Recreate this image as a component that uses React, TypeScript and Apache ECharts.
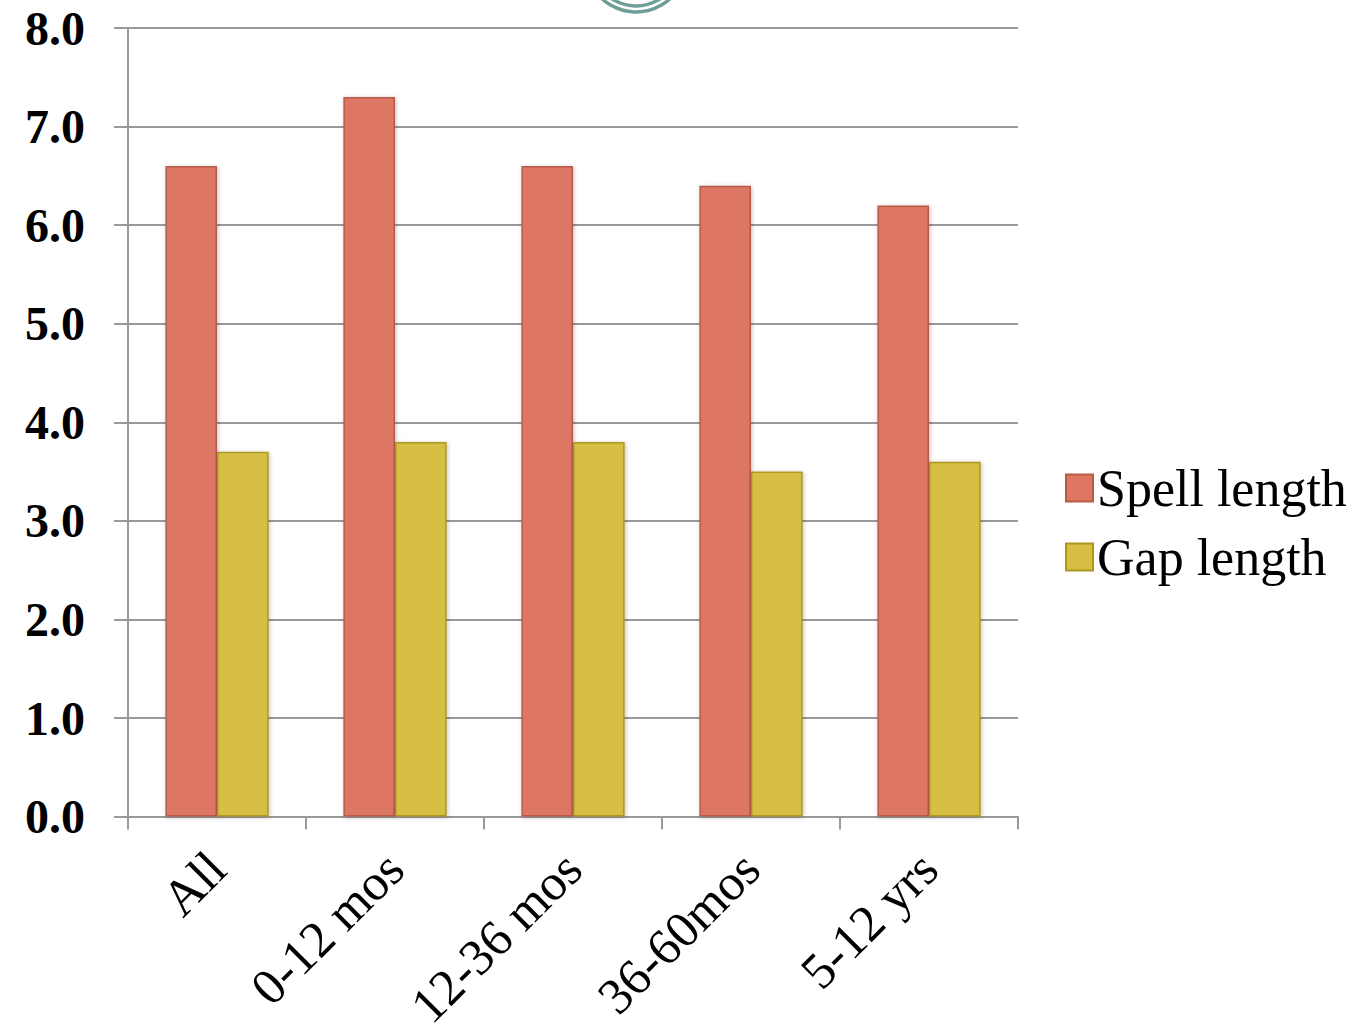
import React, { useEffect, useRef } from "react";
import * as echarts from "echarts";

const categories = ["All", "0-12 mos", "12-36 mos", "36-60mos", "5-12 yrs"];
const spellLength = [6.6, 7.3, 6.6, 6.4, 6.2];
const gapLength = [3.7, 3.8, 3.8, 3.5, 3.6];
const seriesNames = ["Spell length", "Gap length"];

const FONT = "'Liberation Serif', serif";

export default function App() {
  const ref = useRef<HTMLDivElement>(null);
  useEffect(() => {
    if (!ref.current) return;
    const chart = echarts.init(ref.current, null, { renderer: "svg" });
    chart.setOption({
      animation: false,
      backgroundColor: "#ffffff",
      graphic: [
        {
          type: "circle",
          shape: { cx: 636, cy: -38, r: 50 },
          style: { fill: "none", stroke: "#6F9E99", lineWidth: 3.5 },
        },
        {
          type: "circle",
          shape: { cx: 636, cy: -38, r: 44 },
          style: { fill: "none", stroke: "#6F9E99", lineWidth: 3.5 },
        },
      ],
      grid: { left: 128, right: 343, top: 28, bottom: 216, containLabel: false },
      legend: {
        orient: "vertical",
        left: 1060,
        top: 457,
        itemWidth: 27,
        itemHeight: 27,
        itemGap: 17,
        icon: "rect",
        textStyle: { fontFamily: FONT, fontSize: 52, color: "#000", padding: [0, 0, 0, -1] },
        data: seriesNames,
      },
      xAxis: {
        type: "category",
        data: categories,
        axisLine: { show: true, lineStyle: { color: "#999", width: 2 } },
        axisTick: { show: true, length: 13, alignWithLabel: false, lineStyle: { color: "#999", width: 2 } },
        axisLabel: {
          rotate: 45,
          interval: 0,
          margin: 44,
          fontFamily: FONT,
          fontSize: 51,
          color: "#000",
        },
      },
      yAxis: {
        type: "value",
        min: 0,
        max: 8,
        interval: 1,
        axisLine: { show: true, lineStyle: { color: "#999", width: 2 } },
        axisTick: { show: true, inside: false, length: 14, lineStyle: { color: "#999", width: 2 } },
        splitLine: { show: true, lineStyle: { color: "#999", width: 2 } },
        axisLabel: {
          formatter: (v: number) => v.toFixed(1),
          margin: 43,
          fontFamily: FONT,
          fontWeight: "bold",
          fontSize: 48,
          lineHeight: 40,
          color: "#000",
        },
      },
      series: [
        {
          name: seriesNames[0],
          type: "bar",
          data: spellLength,
          barGap: "0%",
          barCategoryGap: "42%",
          itemStyle: {
            color: "#DD7764",
            borderColor: "#B85A48",
            borderWidth: 1.5,
            shadowColor: "rgba(0,0,0,0.25)",
            shadowBlur: 4,
            shadowOffsetX: 1,
            shadowOffsetY: 1,
          },
        },
        {
          name: seriesNames[1],
          type: "bar",
          data: gapLength,
          itemStyle: {
            color: "#D7BF44",
            borderColor: "#AD971F",
            borderWidth: 1.5,
            shadowColor: "rgba(0,0,0,0.25)",
            shadowBlur: 4,
            shadowOffsetX: 1,
            shadowOffsetY: 1,
          },
        },
      ],
    });
    return () => chart.dispose();
  }, []);
  return <div ref={ref} style={{ width: 1361, height: 1034, position: "absolute", left: 0, top: 0 }} />;
}
